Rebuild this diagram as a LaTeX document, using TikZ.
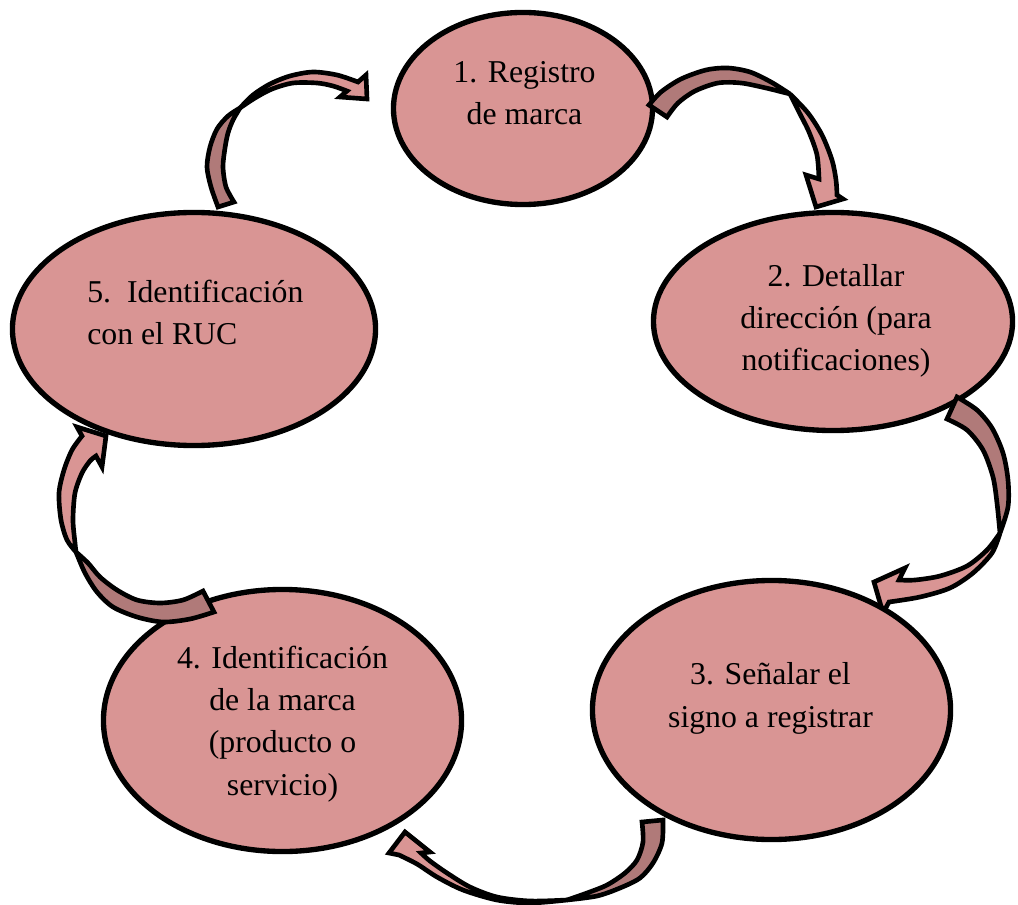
\documentclass[tikz,border=0pt]{standalone}
\usepackage{fontspec}
\setmainfont{Liberation Serif}
\usetikzlibrary{shapes}
\definecolor{pasofill}{RGB}{217,149,148}
\definecolor{pasodark}{RGB}{176,122,121}
\tikzstyle{paso_block}=[ellipse, draw=black, line width=3.8pt, fill=pasofill, inner sep=0pt]
\tikzstyle{paso_text}=[align=center, font=\fontsize{22.6}{29.9}\selectfont, inner sep=0pt]
\tikzstyle{arrow_dark}=[fill=pasodark, draw=black, line width=3.3pt, miter limit=4]
\tikzstyle{arrow_light}=[fill=pasofill, draw=black, line width=3.3pt, miter limit=4]

\begin{document}
\begin{tikzpicture}[x=0.025cm,y=-0.025cm]
\useasboundingbox (0,0) rectangle (1018,905);

\node[paso_block, minimum width=6.475cm, minimum height=4.8cm] (e1) at (523,108.5) {};

% 1 -> 2
\filldraw[arrow_dark] plot[smooth] coordinates {(649,105) (661,92) (681,79) (706,70) (728,68) (750,72) (771,82) (790,94)}
  -- plot[smooth] coordinates {(790,94) (766,88) (741,83) (718,83) (695,91) (678,103) (667,117)} -- cycle;
\filldraw[arrow_light] plot[smooth] coordinates {(790,94) (808,113) (822,135) (832,160) (836,180) (837,195)}
  -- (843,199) -- (816,207) -- (806,175)
  -- plot[smooth] coordinates {(819,179) (817,155) (809,132) (799,112) (790,94)} -- cycle;

\node[paso_block, minimum width=8.975cm, minimum height=5.45cm] (e2) at (833,321.5) {};

% 2 -> 3
\filldraw[arrow_dark] plot[smooth] coordinates {(957,397) (977,410) (992,428) (1003,453) (1008,480) (1008,507) (1000,533)}
  -- plot[smooth] coordinates {(1000,533) (997,503) (993,477) (983,450) (967,430) (947,419)} -- cycle;
\filldraw[arrow_light] plot[smooth] coordinates {(1000,533) (992,553) (973,573) (950,588) (920,597) (889,602)}
  -- (883,613) -- (874,582) -- (905,568)
  -- plot[smooth] coordinates {(899,580) (915,580) (940,576) (967,566) (987,550) (1000,533)} -- cycle;

\node[paso_block, minimum width=8.95cm, minimum height=6.475cm] (e3) at (771.5,710) {};

% 3 -> 4
\filldraw[arrow_dark] plot[smooth] coordinates {(663,820) (662,843) (653,863) (640,878) (620,888) (597,896) (567,900)}
  -- plot[smooth] coordinates {(567,900) (587,893) (607,885) (625,873) (637,860) (643,842) (642,822)} -- cycle;
\filldraw[arrow_light] plot[smooth] coordinates {(567,900) (530,903) (497,900) (463,890) (437,877) (417,864) (399,855)}
  -- (389,853) -- (405,832) -- (430,852)
  -- plot[smooth] coordinates {(421,853) (430,861) (447,873) (470,887) (497,897) (530,901) (567,900)} -- cycle;

\node[paso_block, minimum width=8.95cm, minimum height=6.55cm] (e4) at (282.5,720.5) {};

% 4 -> 5
\filldraw[arrow_dark] plot[smooth] coordinates {(214,612) (190,619) (163,622) (137,617) (113,607) (97,592) (85,573) (76,552)}
  -- plot[smooth] coordinates {(76,552) (88,563) (100,577) (117,590) (137,600) (160,603) (183,600) (203,591)} -- cycle;
\filldraw[arrow_light] plot[smooth] coordinates {(76,552) (67,540) (61,520) (59,493) (64,470) (72,450) (82,436)}
  -- (77,427) -- (106,436) -- (102,467)
  -- plot[smooth] coordinates {(96,456) (90,461) (82,473) (75,493) (73,520) (75,543) (76,552)} -- cycle;

\node[paso_block, minimum width=9.075cm, minimum height=5.825cm] (e5) at (194,329) {};

% 5 -> 1
\filldraw[arrow_dark] plot[smooth] coordinates {(218,207) (211,187) (207,167) (210,147) (217,129) (228,116) (240,108)}
  -- plot[smooth] coordinates {(240,108) (233,120) (228,133) (225,148) (223,167) (226,187) (234,202)} -- cycle;
\filldraw[arrow_light] plot[smooth] coordinates {(240,108) (253,95) (270,84) (290,76) (313,72) (337,75) (358,82)}
  -- (366,75) -- (367,99) -- (340,97)
  -- plot[smooth] coordinates {(347,91) (333,86) (317,83) (293,83) (272,89) (255,98) (240,108)} -- cycle;

% texts (base = last line)
\node[paso_text, anchor=base] (t1) at (524.5,125) {1. Registro\\de marca};
\node[paso_text, anchor=base] (t2) at (836,371) {2. Detallar\\dirección (para\\notificaciones)};
\node[paso_text, anchor=base] (t3) at (770.5,727) {3. Señalar el\\signo a registrar};
\node[paso_text, anchor=base] (t4) at (282.5,795) {4. Identificación\\de la marca\\(producto o\\servicio)};
\node[paso_text, align=left, anchor=base west] (t5) at (87,345) {5.~~Identificación\\con el RUC};
\end{tikzpicture}
\end{document}
